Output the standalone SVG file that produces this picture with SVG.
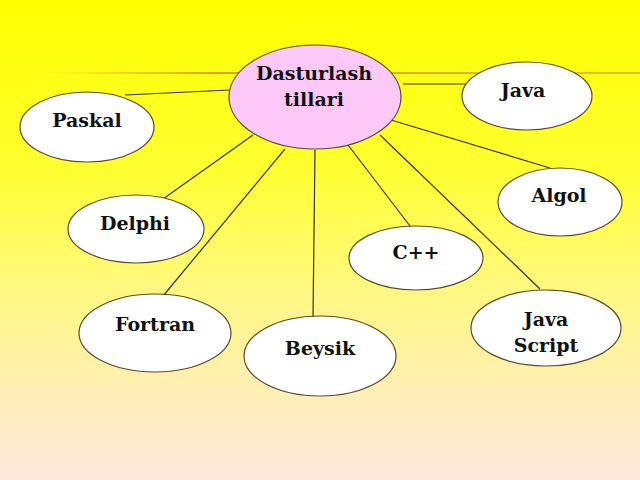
<svg xmlns="http://www.w3.org/2000/svg" width="640" height="480" viewBox="0 0 640 480">
<defs>
<linearGradient id="bg" x1="0" y1="0" x2="0" y2="1">
<stop offset="0" stop-color="#ffff00"/>
<stop offset="0.35" stop-color="#ffff30"/>
<stop offset="0.6" stop-color="#fff880"/>
<stop offset="0.8" stop-color="#ffefb0"/>
<stop offset="1" stop-color="#fde6de"/>
</linearGradient>
<linearGradient id="rule" x1="0" y1="0" x2="1" y2="0">
<stop offset="0" stop-color="#e0a040" stop-opacity="0"/>
<stop offset="0.3" stop-color="#d8902a" stop-opacity="0.85"/>
<stop offset="1" stop-color="#e0a040" stop-opacity="0.7"/>
</linearGradient>
</defs>
<style>
.n{fill:#ffffff;stroke:#5a4a2a;stroke-width:1.2}
.c{fill:#fbc8f7}
.t{font-family:"DejaVu Serif","Liberation Serif",serif;font-weight:bold;font-size:19px;fill:#111111;text-anchor:middle}
#connectors line{stroke:#3a3010;stroke-width:1.2}
</style>
<rect width="640" height="480" fill="url(#bg)"/>
<rect x="40" y="72" width="600" height="2" fill="url(#rule)"/>
<g id="connectors">
<line x1="125" y1="95" x2="230" y2="90"/>
<line x1="403" y1="84" x2="470" y2="84"/>
<line x1="391" y1="120" x2="550" y2="168"/>
<line x1="253" y1="135" x2="163" y2="199"/>
<line x1="285" y1="149" x2="163" y2="296"/>
<line x1="315" y1="150" x2="313" y2="318"/>
<line x1="348" y1="145" x2="410" y2="226"/>
<line x1="380" y1="135" x2="540" y2="289"/>
</g>
<g id="center">
<ellipse class="n c" cx="315" cy="97" rx="86" ry="52"/>
<text class="t" x="314" y="80">Dasturlash</text>
<text class="t" x="314" y="106">tillari</text>
</g>
<g id="java">
<ellipse class="n" cx="527" cy="96" rx="65" ry="34"/>
<text class="t" x="523" y="97">Java</text>
</g>
<g id="paskal">
<ellipse class="n" cx="87" cy="127" rx="67" ry="35"/>
<text class="t" x="87" y="127">Paskal</text>
</g>
<g id="algol">
<ellipse class="n" cx="560" cy="202" rx="62" ry="34"/>
<text class="t" x="559" y="202">Algol</text>
</g>
<g id="delphi">
<ellipse class="n" cx="136" cy="229" rx="68" ry="34"/>
<text class="t" x="135" y="230">Delphi</text>
</g>
<g id="cpp">
<ellipse class="n" cx="416" cy="258" rx="67" ry="32"/>
<text class="t" x="416" y="259">C++</text>
</g>
<g id="javascript">
<ellipse class="n" cx="546" cy="328" rx="75" ry="38"/>
<text class="t" x="546" y="326">Java</text>
<text class="t" x="546" y="352">Script</text>
</g>
<g id="fortran">
<ellipse class="n" cx="155" cy="333" rx="76" ry="39"/>
<text class="t" x="155" y="331">Fortran</text>
</g>
<g id="beysik">
<ellipse class="n" cx="320" cy="356" rx="76" ry="40"/>
<text class="t" x="320" y="355">Beysik</text>
</g>
</svg>
